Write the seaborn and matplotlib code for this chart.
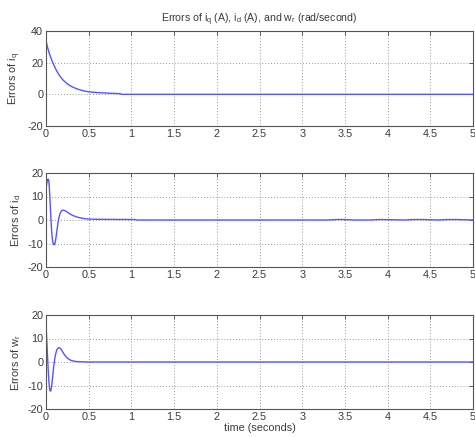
import matplotlib
matplotlib.use("Agg")
import matplotlib.pyplot as plt
import seaborn as sns
import numpy as np

# ---- data ----
t_iq = [0, 0.01, 0.02, 0.035, 0.05, 0.065, 0.08, 0.1, 0.125, 0.15, 0.175, 0.2, 0.25, 0.3, 0.35, 0.4, 0.45,
        0.5, 0.6, 0.7, 0.8, 0.87, 0.88, 5]
e_iq = [34, 31.5, 29.3, 26.5, 24, 22, 20, 17.5, 14.8, 12.5, 10.6, 9, 6.6, 4.9, 3.7, 2.8, 2.1,
        1.6, 1.1, 0.8, 0.55, 0.45, 0, 0]

t_id = [0, 0, 0.005, 0.01, 0.015, 0.02, 0.025, 0.03, 0.035, 0.04, 0.045, 0.05, 0.055, 0.06, 0.065, 0.07,
        0.075, 0.08, 0.085, 0.09, 0.095, 0.1, 0.105, 0.11, 0.115, 0.12, 0.13, 0.14, 0.15, 0.16, 0.17,
        0.18, 0.19, 0.2, 0.21, 0.22, 0.23, 0.24, 0.25, 0.27, 0.29, 0.31, 0.33, 0.36, 0.4, 0.45, 0.5,
        0.6, 0.8, 1.05, 1.06, 3.3, 3.4, 3.5, 3.6, 3.8, 3.9, 4.0, 4.2, 4.3, 4.4, 4.6, 4.7, 4.8, 5.0]
e_id = [4, 13, 14.6, 15.8, 16.7, 17.2, 17.4, 17.2, 15.8, 13.2, 9.8, 6.0, 2.4, -1.0, -4.0, -6.4,
        -8.2, -9.4, -10.1, -10.4, -10.5, -10.3, -9.8, -9.0, -7.9, -6.6, -3.9, -1.3, 0.8, 2.2, 3.2,
        3.8, 4.1, 4.2, 4.1, 4.0, 3.8, 3.6, 3.3, 2.8, 2.4, 2.0, 1.7, 1.3, 0.9, 0.6, 0.4,
        0.3, 0.25, 0.2, 0, 0, 0.2, 0.2, 0, 0, 0.2, 0.15, 0, 0.2, 0.2, 0, 0.2, 0.2, 0]

t_wr = [0, 0.003, 0.006, 0.01, 0.015, 0.02, 0.025, 0.03, 0.035, 0.04, 0.045, 0.05, 0.055, 0.06, 0.065,
        0.07, 0.075, 0.08, 0.09, 0.1, 0.11, 0.12, 0.13, 0.14, 0.15, 0.16, 0.17, 0.18, 0.19, 0.2,
        0.22, 0.24, 0.26, 0.28, 0.3, 0.33, 0.36, 0.4, 0.45, 0.5, 5]
e_wr = [18, 13.6, 11.5, 8.5, 4.6, 0.8, -2.8, -6.0, -8.8, -10.8, -12.0, -12.4, -12.3, -11.6, -10.5,
        -9.0, -7.3, -5.5, -2.0, 0.8, 2.9, 4.4, 5.4, 5.9, 6.1, 6.0, 5.7, 5.2, 4.6, 4.0,
        2.9, 2.0, 1.4, 0.9, 0.6, 0.35, 0.2, 0.1, 0.05, 0, 0]

panels = [
    (t_iq, e_iq, r"Errors of i$_{q}$", [-20, 0, 20, 40]),
    (t_id, e_id, r"Errors of i$_{d}$", [-20, -10, 0, 10, 20]),
    (t_wr, e_wr, r"Errors of w$_{r}$", [-20, -10, 0, 10, 20]),
]
x_ticks = [0, 0.5, 1, 1.5, 2, 2.5, 3, 3.5, 4, 4.5, 5]
x_ticklabels = ["0", "0.5", "1", "1.5", "2", "2.5", "3", "3.5", "4", "4.5", "5"]
title = r"Errors of i$_{q}$ (A), i$_{d}$ (A), and w$_{r}$ (rad/second)"
xlabel = "time (seconds)"

sns.set_style("white")
plt.rcParams['font.family'] = ['Liberation Sans', 'DejaVu Sans']
plt.rcParams['mathtext.fontset'] = 'custom'
plt.rcParams['mathtext.rm'] = 'Liberation Sans'
plt.rcParams['mathtext.it'] = 'Liberation Sans'
plt.rcParams['mathtext.default'] = 'regular'

txt = '#3a3a3a'
fig = plt.figure(figsize=(4.75, 4.37), dpi=100)
rects = [
    (46/475, 1-126/437, 427/475, 95/437),
    (46/475, 1-267/437, 427/475, 94/437),
    (46/475, 1-409/437, 427/475, 94/437),
]
for i, ((tx, ey, lab, yt), r) in enumerate(zip(panels, rects)):
    ax = fig.add_axes(r)
    sns.lineplot(x=tx, y=ey, ax=ax, estimator=None, sort=False, color='#5555ff', linewidth=1.0)
    ax.set_xlim(0, 5)
    ax.set_ylim(yt[0], yt[-1])
    ax.set_xticks(x_ticks)
    ax.set_xticklabels(x_ticklabels)
    ax.set_yticks(yt)
    ax.set_yticklabels([str(v) for v in yt])
    ax.grid(True, linestyle=(0, (1, 2.5)), color='#777777', linewidth=0.6)
    ax.tick_params(direction='in', length=3, width=0.6, top=True, right=True,
                   labelsize=7.8, labelcolor=txt, color='#444444', pad=2)
    for s in ax.spines.values():
        s.set_color('#555555')
        s.set_linewidth(0.8)
    ax.set_ylabel(lab, fontsize=7.8, color=txt, labelpad=3)
    if i == 0:
        ax.set_title(title, fontsize=7.6, color=txt, pad=6)
    if i == 2:
        ax.set_xlabel(xlabel, fontsize=7.8, color=txt, labelpad=1)
    else:
        ax.set_xlabel("")

fig.savefig("out.png", dpi=100)
